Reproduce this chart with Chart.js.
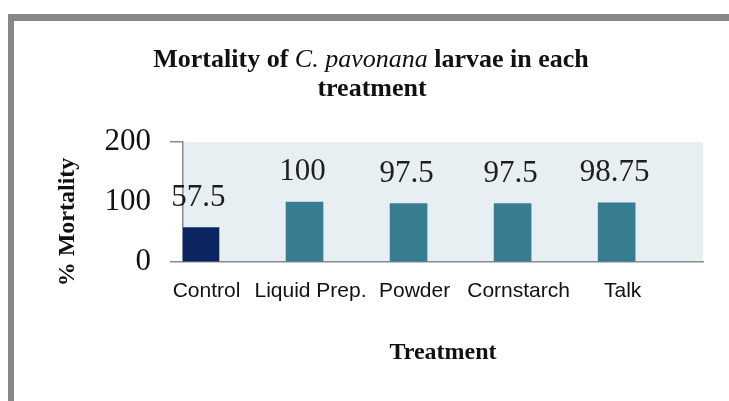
<!DOCTYPE html>
<html>
<head>
<meta charset="utf-8">
<script src="https://cdn.jsdelivr.net/npm/chart.js@4/dist/chart.umd.min.js"></script>
<style>
  html, body { margin: 0; padding: 0; background: #ffffff; }
  canvas { display: block; }
</style>
</head>
<body>
<canvas id="c" width="729" height="401"></canvas>
<script>
// ---- data ----
const categories = ['Control', 'Liquid Prep.', 'Powder', 'Cornstarch', 'Talk'];
const mortality = [57.5, 100, 97.5, 97.5, 98.75];
const valueLabels = ['57.5', '100', '97.5', '97.5', '98.75'];
const yTicks = [0, 100, 200];
const titleLine1 = [
  { text: 'Mortality of ', italic: false },
  { text: 'C. pavonana', italic: true },
  { text: ' larvae in each', italic: false }
];
const titleLine2 = 'treatment';
const yTitle = '% Mortality';
const xTitle = 'Treatment';

// ---- styles ----
const barColors = ['#0c2461', '#377d92', '#377d92', '#377d92', '#377d92'];
const plotBg = '#e8eff3';
const axisGray = '#8a8a8a';
const serif = '"Liberation Serif", "Times New Roman", serif';
const sans = '"Liberation Sans", Arial, sans-serif';

const decor = {
  id: 'decor',
  beforeDraw(chart) {
    const ctx = chart.ctx;
    const a = chart.chartArea;
    ctx.save();
    ctx.fillStyle = '#ffffff';
    ctx.fillRect(0, 0, chart.width, chart.height);
    // outer frame (top + left)
    ctx.fillStyle = '#888888';
    ctx.fillRect(8, 14, chart.width - 8, 7);
    ctx.fillRect(8, 14, 6, chart.height - 14);
    // plot area background
    ctx.fillStyle = plotBg;
    ctx.fillRect(a.left, a.top, a.right - a.left, a.bottom - a.top);
    ctx.restore();
  },
  afterDatasetsDraw(chart) {
    const ctx = chart.ctx;
    const meta = chart.getDatasetMeta(0);
    ctx.save();
    ctx.font = '31px ' + serif;
    ctx.fillStyle = '#1e1e1e';
    ctx.textAlign = 'center';
    ctx.textBaseline = 'alphabetic';
    meta.data.forEach((el, i) => {
      ctx.fillText(valueLabels[i], el.x - 2, el.y - 22);
    });
    ctx.restore();
  },
  afterDraw(chart) {
    const ctx = chart.ctx;
    ctx.save();
    ctx.fillStyle = '#111111';
    ctx.textBaseline = 'alphabetic';
    // title line 1 with italic species name
    const fB = 'bold 26px ' + serif;
    const fI = 'italic 26px ' + serif;
    let total = 0;
    titleLine1.forEach(s => { ctx.font = s.italic ? fI : fB; total += ctx.measureText(s.text).width; });
    let x = 371 - total / 2;
    ctx.textAlign = 'left';
    titleLine1.forEach(s => {
      ctx.font = s.italic ? fI : fB;
      ctx.fillText(s.text, x, 67);
      x += ctx.measureText(s.text).width;
    });
    ctx.font = fB;
    ctx.textAlign = 'center';
    ctx.fillText(titleLine2, 372, 96);
    // y axis title
    ctx.translate(68, 222);
    ctx.rotate(-Math.PI / 2);
    ctx.font = 'bold 24px ' + serif;
    ctx.textBaseline = 'middle';
    ctx.fillText(yTitle, 0, 0);
    ctx.restore();
  }
};

new Chart(document.getElementById('c'), {
  type: 'bar',
  data: {
    datasets: [{
      data: mortality.map((v, i) => ({ x: i, y: v })),
      backgroundColor: barColors,
      borderWidth: 0,
      barThickness: 37
    }]
  },
  options: {
    responsive: false,
    devicePixelRatio: 1,
    animation: false,
    layout: { padding: { top: 142, left: 0, right: 26, bottom: 0 } },
    plugins: { legend: { display: false }, tooltip: { enabled: false }, title: { display: false } },
    scales: {
      x: {
        type: 'linear',
        position: 'bottom',
        offset: false,
        min: -0.168,
        max: 4.83,
        afterFit(s) { s.height = 139; },
        afterBuildTicks(s) { s.ticks = categories.map((c, i) => ({ value: i })); },
        ticks: {
          autoSkip: false,
          maxRotation: 0,
          padding: 17,
          labelOffset: 6,
          color: '#111111',
          font: { family: sans, size: 21 },
          callback: (v) => categories[v] !== undefined ? categories[v] : ''
        },
        grid: { display: true, drawOnChartArea: false, drawTicks: false },
        border: { display: true, color: axisGray, width: 1.5 },
        title: {
          display: true,
          text: xTitle,
          color: '#111111',
          font: { family: serif, size: 24, weight: 'bold' },
          padding: { top: 0, bottom: 34 }
        }
      },
      y: {
        min: 0,
        max: 200,
        afterFit(s) { s.width = 183; },
        afterBuildTicks(s) { s.ticks = yTicks.map(v => ({ value: v })); },
        ticks: {
          padding: 19,
          color: '#111111',
          font: { family: serif, size: 31 }
        },
        grid: {
          drawOnChartArea: false,
          drawTicks: true,
          tickLength: 13,
          color: (c) => (c.tick && c.tick.value === 100) ? 'rgba(0,0,0,0)' : axisGray,
          lineWidth: 1.5
        },
        border: { display: true, color: axisGray, width: 1.5 }
      }
    }
  },
  plugins: [decor]
});
</script>
</body>
</html>
